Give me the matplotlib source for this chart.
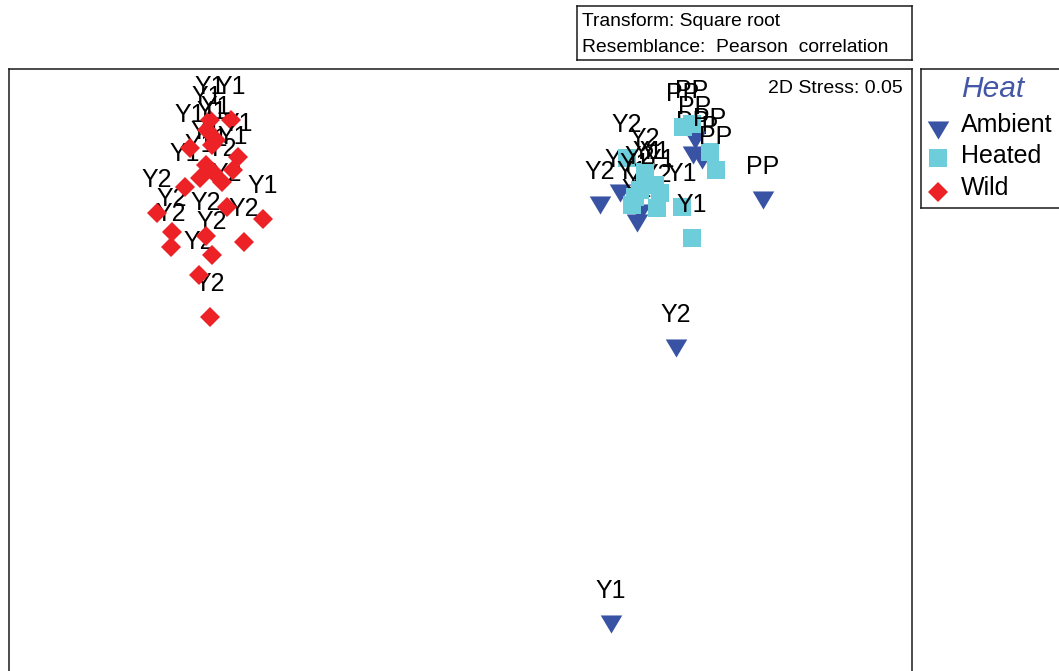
import matplotlib
matplotlib.use("Agg")
import matplotlib.pyplot as plt

plt.rcParams['font.family'] = ['Liberation Sans', 'DejaVu Sans']

# nMDS scores (MDS1, MDS2) and sample labels per Heat group
ambient_x = [1.51, 2.16, 3.03, 1.40, 1.60, 1.77, 1.80, 2.33, 2.42, 2.35, 1.88]
ambient_y = [-2.44, 0.32, 1.80, 1.75, 1.87, 1.57, 1.67, 2.25, 2.20, 2.40, 1.95]
ambient_lab = ['Y1', 'Y2', 'PP', 'Y2', 'Y2', 'Y1', 'Y1', 'PP', 'PP', 'PP', 'Y1']

heated_x = [2.23, 2.32, 2.50, 2.56, 2.22, 2.32, 1.67, 1.75, 2.00, 1.97, 1.72,
            1.85, 1.95, 1.80]
heated_y = [2.53, 2.56, 2.28, 2.10, 1.73, 1.42, 2.22, 1.83, 1.87, 1.72, 1.75,
            2.08, 1.95, 1.90]
heated_lab = ['PP', 'PP', 'PP', 'PP', 'Y1', 'Y1', 'Y2', 'Y1', 'Y1', 'Y2', 'Y1',
              'Y2', 'Y1', 'Y2']

wild_x = [-2.50, -2.61, -2.48, -2.16, -2.89, -2.88, -1.97, -3.03, -2.54, -2.33,
          -2.75, -2.60, -2.47, -2.54, -2.38, -2.22, -2.70, -2.48, -2.29, -2.50,
          -2.53, -2.44, -2.27]
wild_y = [0.63, 1.05, 1.25, 1.38, 1.33, 1.48, 1.61, 1.67, 1.44, 1.73,
          1.93, 2.02, 2.08, 2.15, 1.98, 2.23, 2.32, 2.35, 2.60, 2.60,
          2.50, 2.40, 2.10]
wild_lab = ['Y2', 'Y2', 'Y2', 'Y2', 'Y2', 'Y2', 'Y1', 'Y2', 'Y2', 'Y2',
            'Y1', 'Y1', 'Y1', 'Y1', 'Y2', 'Y1', 'Y1', 'Y1', 'Y1', 'Y1',
            'Y1', 'Y1', 'Y1']

group_names = ['Ambient', 'Heated', 'Wild']
legend_title = 'Heat'
stress_text = '2D Stress: 0.05'
info_lines = ['Transform: Square root', 'Resemblance:  Pearson  correlation']

# Marker styles per group
tri_down = [(-1.0, 0.84), (1.0, 0.84), (0.0, -0.84)]
styles = {
    'Ambient': dict(marker=tri_down, color='#3953a4', ms=15.5),
    'Heated': dict(marker='s', color='#6dcddb', ms=12.3),
    'Wild': dict(marker='D', color='#ec2227', ms=10.5),
}
frame_color = '#1a1a1a'

W, H = 1059, 671
fig = plt.figure(figsize=(W / 100, H / 100), dpi=100)

# Main ordination panel (bottom edge runs past the figure)
ax = fig.add_axes([9 / W, (H - 680) / H, 903 / W, 611 / H])
ax.set_xlim(-4.51, 4.52)
ax.set_ylim(-3.00, 3.11)
ax.set_xticks([])
ax.set_yticks([])
for sp in ax.spines.values():
    sp.set_linewidth(1.1)
    sp.set_color(frame_color)

groups = [
    ('Ambient', ambient_x, ambient_y, ambient_lab),
    ('Heated', heated_x, heated_y, heated_lab),
    ('Wild', wild_x, wild_y, wild_lab),
]
z = 2
for name, xs, ys, labs in groups:
    st = styles[name]
    for x, y, lab in zip(xs, ys, labs):
        ax.plot([x], [y], linestyle='none', marker=st['marker'], ms=st['ms'],
                color=st['color'], markeredgewidth=0, zorder=z)
        ax.annotate(lab, (x, y), xytext=(0, 18.7), textcoords='offset points',
                    ha='center', va='baseline', fontsize=18, color='black',
                    zorder=z + 1)
        z += 2

ax.text(894 / 903, 1 - 24 / 611, stress_text, transform=ax.transAxes,
        ha='right', va='baseline', fontsize=14.0, color='black')

# Info box above the panel
info = fig.add_axes([577 / W, (H - 60) / H, 335 / W, 54 / H])
info.set_xticks([])
info.set_yticks([])
for sp in info.spines.values():
    sp.set_linewidth(1.1)
    sp.set_color(frame_color)
info.text(5 / 335, 1 - 20 / 54, info_lines[0], transform=info.transAxes,
          ha='left', va='baseline', fontsize=13.9)
info.text(5 / 335, 1 - 46 / 54, info_lines[1], transform=info.transAxes,
          ha='left', va='baseline', fontsize=13.9)

# Legend box (right edge runs past the figure)
lw, lh = 160, 139
leg = fig.add_axes([921 / W, (H - 208) / H, lw / W, lh / H])
leg.set_xlim(0, lw)
leg.set_ylim(lh, 0)
leg.set_xticks([])
leg.set_yticks([])
for sp in leg.spines.values():
    sp.set_linewidth(1.1)
    sp.set_color(frame_color)
leg.text(72, 28, legend_title, ha='center', va='baseline', fontsize=21.5,
         style='italic', color='#4457a7')
mark_y = [61, 89, 123]
text_y = [63, 94, 126]
for name, my, ty in zip(group_names, mark_y, text_y):
    st = styles[name]
    leg.plot([17], [my], linestyle='none', marker=st['marker'], ms=st['ms'],
             color=st['color'], markeredgewidth=0)
    leg.text(40, ty, name, ha='left', va='baseline', fontsize=18)

fig.savefig('out.png', dpi=100)
